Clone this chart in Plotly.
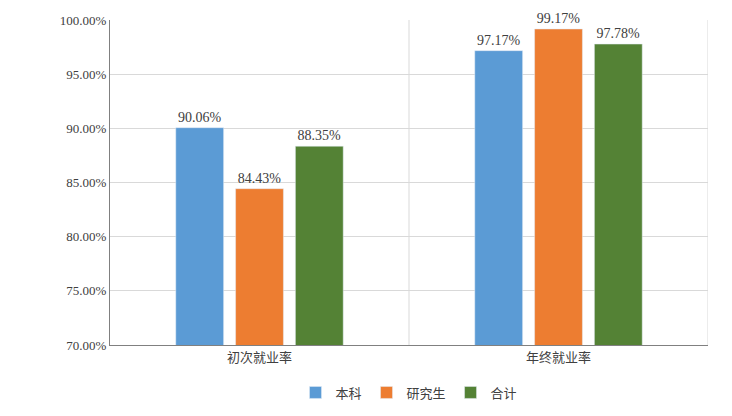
import plotly.graph_objects as go

categories = ['初次就业率', '年终就业率']
series_names = ['本科', '研究生', '合计']
values = [
    [90.06, 97.17],
    [84.43, 99.17],
    [88.35, 97.78],
]
colors = ['#5B9BD5', '#ED7D31', '#548235']

fig = go.Figure()
for name, vals, color in zip(series_names, values, colors):
    fig.add_trace(go.Bar(
        x=categories, y=vals, name=name, marker_color=color,
        text=[f'{v:.2f}%' for v in vals], textposition='outside',
        textfont=dict(family='Liberation Serif', size=14, color='#404040'),
        cliponaxis=False,
    ))

# category separator and right border
for xv in [0.5, 1.5]:
    fig.add_shape(type='line', xref='x', yref='paper', x0=xv, x1=xv, y0=0, y1=1,
                  line=dict(color='#D9D9D9', width=1))

fig.update_layout(
    width=732, height=416,
    margin=dict(l=102, r=32, t=12, b=79, autoexpand=False),
    plot_bgcolor='white', paper_bgcolor='white',
    barmode='group', bargap=0.4, bargroupgap=0.2,
    font=dict(family='Noto Sans CJK SC', size=13, color='#404040'),
    legend=dict(orientation='h', x=0.5, xanchor='center', y=-0.1, yanchor='top',
                font=dict(size=13), itemwidth=30, tracegroupgap=0),
)
fig.update_xaxes(range=[-0.5, 1.5], showline=True, linecolor='#808080',
                 ticks='', tickfont=dict(size=13), automargin=False)
fig.update_yaxes(range=[70, 100], dtick=5, tickformat='.2f', ticksuffix='%',
                 showgrid=True, gridcolor='#D9D9D9', showline=True, linecolor='#808080',
                 zeroline=False, automargin=False,
                 tickfont=dict(family='Liberation Serif', size=13, color='#404040'))

fig.write_html('out.html')
